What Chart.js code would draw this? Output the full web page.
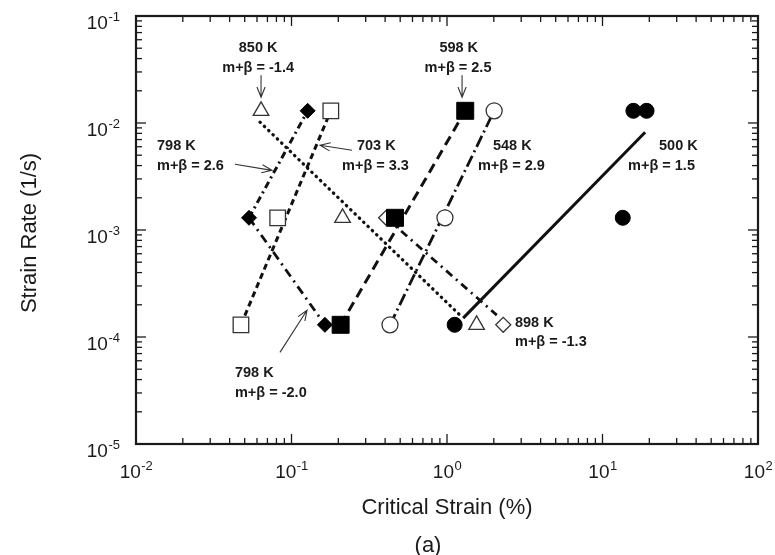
<!DOCTYPE html>
<html>
<head>
<meta charset="utf-8">
<script src="https://cdn.jsdelivr.net/npm/chart.js@4/dist/chart.umd.min.js"></script>
<style>
  html, body { margin: 0; padding: 0; background: #fff; }
  #wrap { width: 775px; height: 555px; }
</style>
</head>
<body>
<div id="wrap"><canvas id="chart" width="775" height="555"></canvas></div>
<script>
// strain rates (1/s) of the three test series
const rates = [1.3e-2, 1.3e-3, 1.3e-4];

// critical strain (%) per temperature, same order as rates
const strain850 = [0.0637, 0.213, 1.55];
const strain798 = [0.127, 0.0533, 0.164];
const strain703 = [0.179, 0.0815, 0.0473];
const strain598 = [1.31, 0.463, 0.207];
const strain548 = [2.01, 0.97, 0.43];
const strain500 = [15.8, 19.2, 13.5, 1.12];
const rate500 = [1.3e-2, 1.3e-2, 1.3e-3, 1.3e-4];
const strain898 = [0.406, 2.30];
const rate898 = [1.3e-3, 1.3e-4];

// fitted lines, strain (%) and rate (1/s) at both ends
const fit850x = [0.0627, 1.24],  fit850y = [1.02e-2, 1.55e-4];
const fit798ax = [0.0533, 0.127], fit798ay = [1.3e-3, 1.3e-2];
const fit798bx = [0.0533, 0.164], fit798by = [1.3e-3, 1.3e-4];
const fit703x = [0.0473, 0.179], fit703y = [1.3e-4, 1.3e-2];
const fit598x = [0.207, 1.31],   fit598y = [1.3e-4, 1.3e-2];
const fit548x = [0.43, 2.01],    fit548y = [1.3e-4, 1.3e-2];
const fit500x = [1.27, 18.8],    fit500y = [1.5e-4, 8.2e-3];
const fit898x = [0.406, 2.09],   fit898y = [1.3e-3, 1.6e-4];

// decade exponents used for the tick labels
const xTickExps = [-2, -1, 0, 1, 2];
const yTickExps = [-5, -4, -3, -2, -1];

// text notes placed in data coordinates
const notes = [
  { text: '850 K',       at: [0.061, 0.050],     align: 'center' },
  { text: 'm+β = -1.4',  at: [0.061, 0.0324],    align: 'center' },
  { text: '598 K',       at: [1.19, 0.050],      align: 'center' },
  { text: 'm+β = 2.5',   at: [1.177, 0.0324],    align: 'center' },
  { text: '798 K',       at: [0.01365, 6.05e-3], align: 'left' },
  { text: 'm+β = 2.6',   at: [0.01365, 3.93e-3], align: 'left' },
  { text: '703 K',       at: [0.2637, 6.05e-3],  align: 'left' },
  { text: 'm+β = 3.3',   at: [0.2113, 3.93e-3],  align: 'left' },
  { text: '548 K',       at: [1.976, 6.05e-3],   align: 'left' },
  { text: 'm+β = 2.9',   at: [1.58, 3.93e-3],    align: 'left' },
  { text: '500 K',       at: [23.1, 6.05e-3],    align: 'left' },
  { text: 'm+β = 1.5',   at: [14.6, 3.93e-3],    align: 'left' },
  { text: '898 K',       at: [2.737, 1.34e-4],   align: 'left' },
  { text: 'm+β = -1.3',  at: [2.737, 8.93e-5],   align: 'left' },
  { text: '798 K',       at: [0.0433, 4.58e-5],  align: 'left' },
  { text: 'm+β = -2.0',  at: [0.0433, 2.98e-5],  align: 'left' }
];

const arrows = [
  { from: [0.0637, 0.0279], to: [0.0637, 0.0174] },
  { from: [1.25, 0.0279],   to: [1.25, 0.0174] },
  { from: [0.0433, 4.11e-3], to: [0.0749, 3.61e-3] },
  { from: [0.245, 5.56e-3], to: [0.1526, 6.19e-3] },
  { from: [0.0843, 7.19e-5], to: [0.1258, 1.78e-4] }
];

const INK = '#1a1a1a';
const FONT = '"Liberation Sans", Arial, Helvetica, sans-serif';

function pts(xs, ys) {
  return xs.map((x, i) => ({ x, y: ys[i] }));
}

function markers(xs, ys, style, filled, radius, order) {
  return {
    data: pts(xs, ys),
    showLine: false,
    pointStyle: style,
    pointRadius: radius,
    pointBackgroundColor: filled ? '#000' : '#fff',
    pointBorderColor: filled ? '#000' : '#333',
    pointBorderWidth: filled ? 1 : 1.3,
    order
  };
}

function fitLine(xs, ys, dash, width, cap) {
  return {
    data: pts(xs, ys),
    showLine: true,
    pointRadius: 0,
    borderColor: '#111',
    borderWidth: width,
    borderDash: dash,
    borderCapStyle: cap || 'butt',
    order: 10
  };
}

const datasets = [
  fitLine(fit850x, fit850y, [0.5, 5.5], 3.2, 'round'),
  fitLine(fit798ax, fit798ay, [7, 4, 2, 4], 3),
  fitLine(fit798bx, fit798by, [9, 5, 2, 5], 2.8),
  fitLine(fit703x, fit703y, [6, 4], 3),
  fitLine(fit598x, fit598y, [10, 6], 3),
  fitLine(fit548x, fit548y, [12, 4, 2, 4], 2.8),
  fitLine(fit500x, fit500y, [], 3),
  fitLine(fit898x, fit898y, [8, 5, 2, 5], 2.8),

  markers(strain850, rates, 'triangle', false, 9, 2),
  markers(strain798, rates, 'rectRot', true, 7.5, 1),
  markers(strain703, rates, 'rect', false, 11, 2),
  markers(strain898, rate898, 'rectRot', false, 7.5, 2),
  markers(strain598, rates, 'rect', true, 12, 1),
  markers(strain548, rates, 'circle', false, 8, 2),
  markers(strain500, rate500, 'circle', true, 7.5, 1)
];

function isDecade(v) {
  const l = Math.log10(v);
  return Math.abs(l - Math.round(l)) < 1e-9;
}

function drawArrow(ctx, x0, y0, x1, y1) {
  const ang = Math.atan2(y1 - y0, x1 - x0);
  const head = 11, spread = 0.38;
  ctx.beginPath();
  ctx.moveTo(x0, y0);
  ctx.lineTo(x1, y1);
  ctx.moveTo(x1 - head * Math.cos(ang - spread), y1 - head * Math.sin(ang - spread));
  ctx.lineTo(x1, y1);
  ctx.lineTo(x1 - head * Math.cos(ang + spread), y1 - head * Math.sin(ang + spread));
  ctx.stroke();
}

// frame, inward ticks, power-of-ten labels, titles and notes
const axesFrame = {
  id: 'axesFrame',
  afterDatasetsDraw(chart) {
    const { ctx, chartArea: a, scales: { x, y } } = chart;
    ctx.save();
    ctx.strokeStyle = INK;
    ctx.lineWidth = 1.3;

    const tick = (x0, y0, x1, y1) => {
      ctx.beginPath(); ctx.moveTo(x0, y0); ctx.lineTo(x1, y1); ctx.stroke();
    };

    for (let e = xTickExps[0]; e <= xTickExps[xTickExps.length - 1]; e++) {
      for (let m = 1; m <= 9; m++) {
        const v = m * Math.pow(10, e);
        if (v > x.max * 1.0001) break;
        const px = x.getPixelForValue(v);
        const len = m === 1 ? 10 : 6;
        tick(px, a.bottom, px, a.bottom - len);
        tick(px, a.top, px, a.top + len);
      }
    }
    for (let e = yTickExps[0]; e <= yTickExps[yTickExps.length - 1]; e++) {
      for (let m = 1; m <= 9; m++) {
        const v = m * Math.pow(10, e);
        if (v > y.max * 1.0001) break;
        const py = y.getPixelForValue(v);
        const len = m === 1 ? 10 : 6;
        tick(a.left, py, a.left + len, py);
        tick(a.right, py, a.right - len, py);
      }
    }

    ctx.lineWidth = 2.2;
    ctx.strokeRect(a.left, a.top, a.right - a.left, a.bottom - a.top);

    // tick labels as 10 with a raised exponent
    ctx.fillStyle = INK;
    ctx.textBaseline = 'middle';
    ctx.textAlign = 'left';
    const baseFont = '19px ' + FONT, supFont = '13px ' + FONT;
    xTickExps.forEach(e => {
      const px = x.getPixelForValue(Math.pow(10, e));
      const sup = String(e);
      ctx.font = baseFont; const w1 = ctx.measureText('10').width;
      ctx.font = supFont; const w2 = ctx.measureText(sup).width;
      const x0 = px - (w1 + w2) / 2;
      ctx.font = baseFont; ctx.fillText('10', x0, a.bottom + 29);
      ctx.font = supFont; ctx.fillText(sup, x0 + w1 + 0.5, a.bottom + 22);
    });
    yTickExps.forEach(e => {
      const py = y.getPixelForValue(Math.pow(10, e));
      const sup = String(e);
      ctx.font = baseFont; const w1 = ctx.measureText('10').width;
      ctx.font = supFont; const w2 = ctx.measureText(sup).width;
      const xEnd = a.left - 16;
      ctx.font = supFont; ctx.fillText(sup, xEnd - w2, py + 1);
      ctx.font = baseFont; ctx.fillText('10', xEnd - w2 - w1 - 0.5, py + 8);
    });

    // axis titles and panel tag
    ctx.font = '22px ' + FONT;
    ctx.textAlign = 'center';
    const cx = (a.left + a.right) / 2;
    ctx.fillText('Critical Strain (%)', cx, a.bottom + 64);
    ctx.fillText('(a)', cx - 19, a.bottom + 102);
    ctx.save();
    ctx.translate(30, (a.top + a.bottom) / 2 + 3);
    ctx.rotate(-Math.PI / 2);
    ctx.fillText('Strain Rate (1/s)', 0, 0);
    ctx.restore();

    // notes
    ctx.font = 'bold 14.5px ' + FONT;
    notes.forEach(n => {
      ctx.textAlign = n.align;
      ctx.fillText(n.text, x.getPixelForValue(n.at[0]), y.getPixelForValue(n.at[1]));
    });

    ctx.lineWidth = 1.1;
    ctx.strokeStyle = '#333';
    arrows.forEach(ar => {
      drawArrow(ctx,
        x.getPixelForValue(ar.from[0]), y.getPixelForValue(ar.from[1]),
        x.getPixelForValue(ar.to[0]), y.getPixelForValue(ar.to[1]));
    });
    ctx.restore();
  }
};

new Chart(document.getElementById('chart').getContext('2d'), {
  type: 'scatter',
  data: { datasets },
  options: {
    responsive: false,
    animation: false,
    events: [],
    layout: { padding: { left: 136, right: 17, top: 16, bottom: 111 } },
    scales: {
      x: {
        type: 'logarithmic', min: 0.01, max: 100,
        ticks: { display: false },
        grid: { display: false, drawTicks: false },
        border: { display: false }
      },
      y: {
        type: 'logarithmic', min: 1e-5, max: 0.1,
        ticks: { display: false },
        grid: { display: false, drawTicks: false },
        border: { display: false }
      }
    },
    plugins: {
      legend: { display: false },
      tooltip: { enabled: false }
    }
  },
  plugins: [axesFrame]
});
</script>
</body>
</html>
